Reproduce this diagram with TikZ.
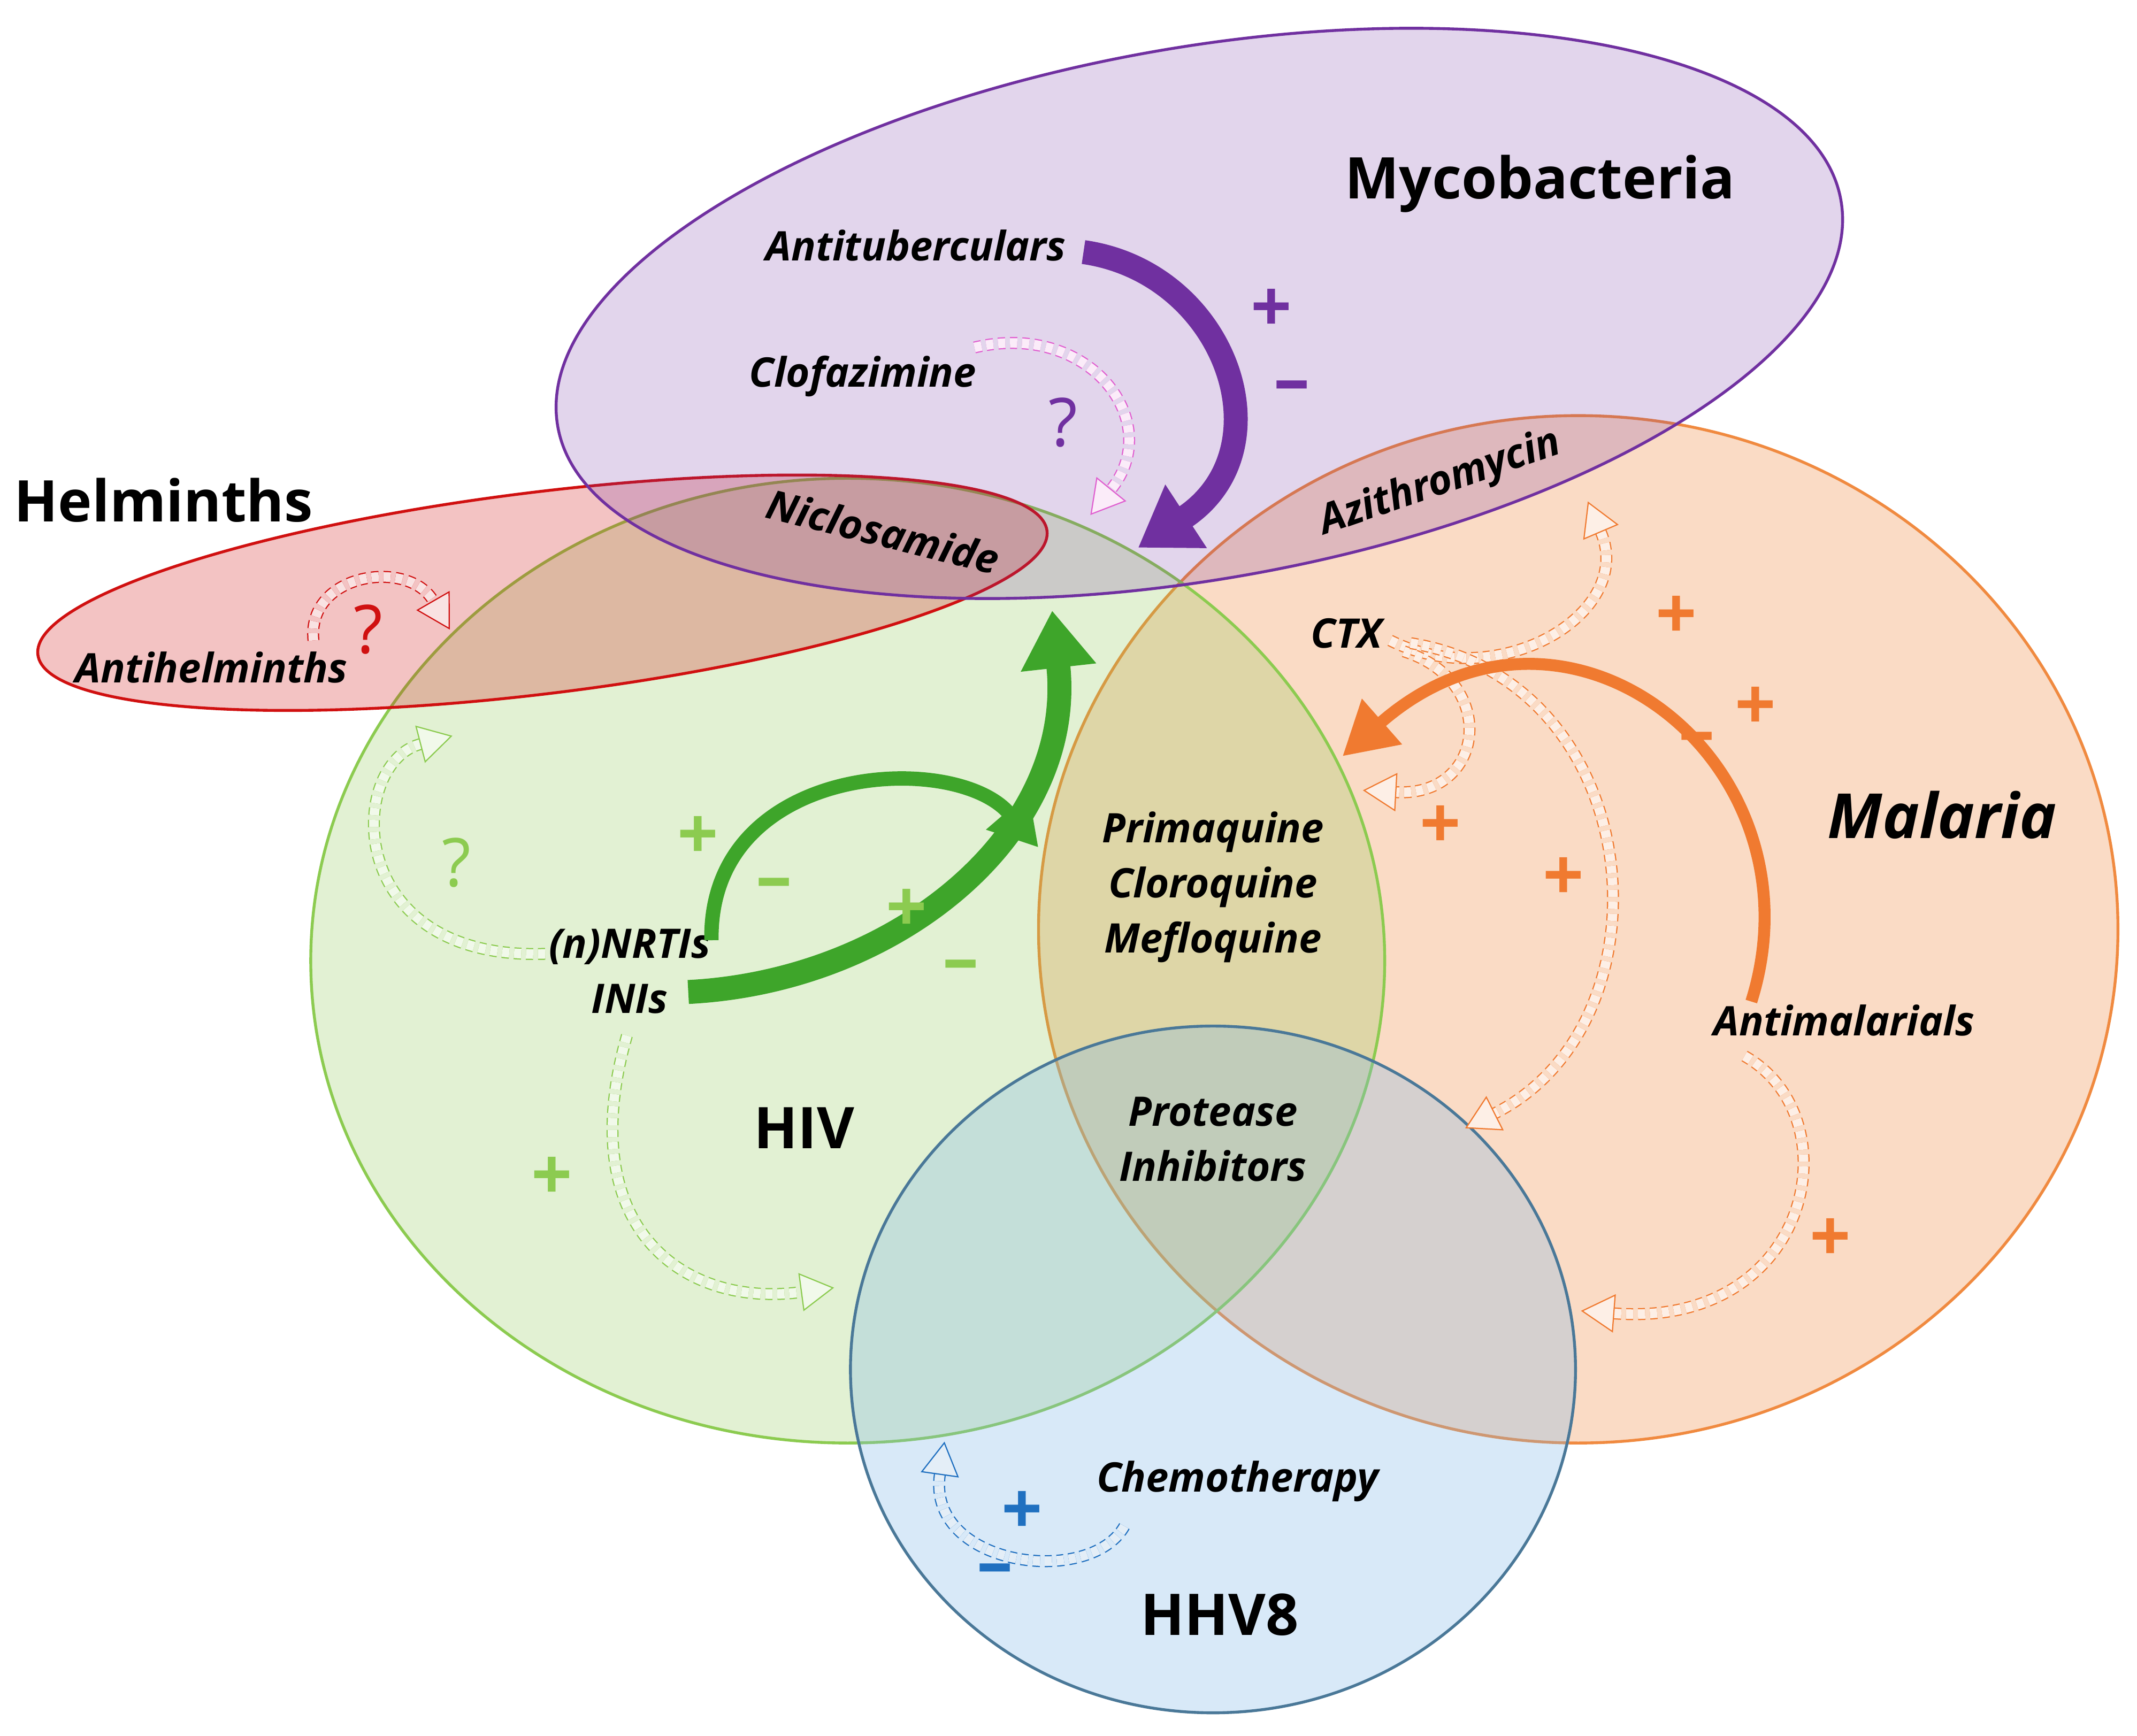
\documentclass[tikz,border=0pt]{standalone}
\usepackage{fontspec}
\setmainfont{Open Sans}
\usetikzlibrary{arrows.meta}
\definecolor{cmy}{HTML}{7030A0}
\definecolor{chel}{HTML}{D01010}
\definecolor{chiv}{HTML}{8CCB50}
\definecolor{cmal}{HTML}{F08A40}
\definecolor{chh}{HTML}{4A7898}
\definecolor{chhf}{HTML}{80B8E8}
\definecolor{cgreen}{HTML}{3EA52A}
\definecolor{corange}{HTML}{F07A30}
\definecolor{cblue}{HTML}{2070C0}
\definecolor{cpink}{HTML}{E060D0}
\begin{document}
\begin{tikzpicture}[x=0.02cm,y=-0.02cm,
 big/.style={font=\fontsize{24}{28}\selectfont\bfseries},
 lab/.style={font=\fontsize{17}{21}\selectfont\bfseries\itshape,align=center},
 sign/.style={font=\fontsize{30}{30}\selectfont\bfseries},
 thick arrow/.style={line width=10pt,-{Triangle[length=24pt,width=30pt]}},
 dash arrow/.style={draw=#1,dashed,dash pattern=on 3pt off 2pt,line width=0.5pt,double=#1!12,double distance=4pt,-{Triangle[open,length=14pt,width=16pt,fill=#1!12]}}]
\useasboundingbox (0,0) rectangle (1568,1274);
\fill[white] (0,0) rectangle (1568,1274);
% regions
\path[fill=cmal,fill opacity=0.3,draw=cmal,line width=1.2pt,draw opacity=1] (1158,682) ellipse [x radius=396,y radius=377];
\path[fill=chiv,fill opacity=0.25,draw=chiv,line width=1.2pt,draw opacity=1] (622,705) ellipse [x radius=394,y radius=354];
\path[fill=chhf,fill opacity=0.3,draw=chh,line width=1.2pt,draw opacity=1] (890,1005) ellipse [x radius=266,y radius=252];
\path[fill=chel,fill opacity=0.25,draw=chel,line width=1.2pt,draw opacity=1,rotate around={7:(398,435)}] (398,435) ellipse [x radius=373,y radius=74];
\path[fill=cmy,fill opacity=0.2,draw=cmy,line width=1.2pt,draw opacity=1,rotate around={10:(880,230)}] (880,230) ellipse [x radius=478,y radius=195];
% titles
\node[big] (myc) at (1130,135) {Mycobacteria};
\node[big] (hel) at (120,367) {Helminths};
\node[big,font=\fontsize{26}{30}\selectfont\bfseries\itshape] (mal) at (1425,598) {Malaria};
\node[big] (hiv) at (590,828) {HIV};
\node[big] (hhv) at (895,1185) {HHV8};
% labels
\node[lab] (atb) at (672,180) {Antituberculars};
\node[lab] (clo) at (633,276) {Clofazimine};
\node[lab,rotate=-14] (nic) at (648,390) {Niclosamide};
\node[lab,rotate=19] (azi) at (1057,355) {Azithromycin};
\node[lab] (ahe) at (155,490) {Antihelminths};
\node[lab] (ctx) at (988,465) {CTX};
\node[lab] (pcm) at (890,651) {Primaquine\\[2pt]Cloroquine\\[2pt]Mefloquine};
\node[lab] (nrt) at (462,713) {(n)NRTIs\\[2pt]INIs};
\node[lab] (pro) at (890,836) {Protease\\[2pt]Inhibitors};
\node[lab] (ama) at (1353,749) {Antimalarials};
\node[lab] (che) at (908,1087) {Chemotherapy};
% coordinates for arrows
\coordinate (pa1) at (795,185); \coordinate (pa2) at (835,402);
\coordinate (pd1) at (715,255); \coordinate (pd2) at (800,378);
\coordinate (rd1) at (230,470); \coordinate (rd2) at (330,462);
\coordinate (ga1) at (505,728); \coordinate (ga2) at (772,448);
\coordinate (gb1) at (522,690); \coordinate (gb2) at (762,622);
\coordinate (gd1) at (400,700); \coordinate (gd2) at (332,540);
\coordinate (gd3) at (460,760); \coordinate (gd4) at (612,945);
\coordinate (oa1) at (1285,735); \coordinate (oa2) at (985,555);
\coordinate (od1) at (1020,470); \coordinate (od2) at (1165,368);
\coordinate (od3) at (1000,580); \coordinate (od4) at (1075,828);
\coordinate (od5) at (1280,775); \coordinate (od6) at (1160,962);
\coordinate (bd1) at (825,1120); \coordinate (bd2) at (693,1058);
% dashed arrows
\draw[dash arrow=cpink] (pd1) .. controls (800,235) and (855,310) .. (pd2);
\draw[dash arrow=chel] (rd1) .. controls (225,420) and (300,410) .. (rd2);
\draw[dash arrow=chiv] (gd1) .. controls (250,705) and (255,560) .. (gd2);
\draw[dash arrow=chiv] (gd3) .. controls (420,900) and (500,960) .. (gd4);
\draw[dash arrow=corange] (od1) .. controls (1100,510) and (1200,450) .. (od2);
\draw[dash arrow=corange] (1030,478) .. controls (1100,500) and (1090,585) .. (od3);
\draw[dash arrow=corange] (1035,472) .. controls (1210,500) and (1230,750) .. (od4);
\draw[dash arrow=corange] (od5) .. controls (1360,820) and (1330,975) .. (od6);
\draw[dash arrow=cblue] (bd1) .. controls (800,1165) and (680,1150) .. (bd2);
% thick arrows
\draw[thick arrow,draw=cmy] (pa1) .. controls (900,200) and (945,330) .. (pa2);
\draw[thick arrow,draw=cgreen] (ga1) .. controls (660,720) and (790,610) .. (ga2);
\draw[thick arrow,draw=cgreen,line width=6pt,-{Triangle[length=20pt,width=22pt]}] (gb1) .. controls (520,560) and (700,550) .. (gb2);
\draw[thick arrow,draw=corange,line width=5pt,-{Triangle[length=22pt,width=24pt]}] (oa1) .. controls (1340,560) and (1150,410) .. (oa2);
% signs
\node[sign,text=cmy] (s1) at (933,228) {+};
\node[sign,text=cmy] (s2) at (948,288) {–};
\node[sign,text=cmy,font=\fontsize{28}{28}\selectfont] (s3) at (780,310) {?};
\node[sign,text=chel,font=\fontsize{28}{28}\selectfont] (s4) at (270,462) {?};
\node[sign,text=chiv] (s5) at (512,615) {+};
\node[sign,text=chiv] (s6) at (568,653) {–};
\node[sign,text=chiv] (s7) at (665,668) {+};
\node[sign,text=chiv] (s8) at (705,713) {–};
\node[sign,text=chiv,font=\fontsize{28}{28}\selectfont] (s9) at (335,633) {?};
\node[sign,text=chiv] (s10) at (405,865) {+};
\node[sign,text=corange] (o1) at (1230,453) {+};
\node[sign,text=corange] (o2) at (1288,520) {+};
\node[sign,text=corange] (o3) at (1245,546) {–};
\node[sign,text=corange] (o4) at (1057,607) {+};
\node[sign,text=corange] (o5) at (1147,645) {+};
\node[sign,text=corange] (o6) at (1343,910) {+};
\node[sign,text=cblue] (b1) at (750,1110) {+};
\node[sign,text=cblue] (b2) at (730,1156) {–};
\end{tikzpicture}
\end{document}
